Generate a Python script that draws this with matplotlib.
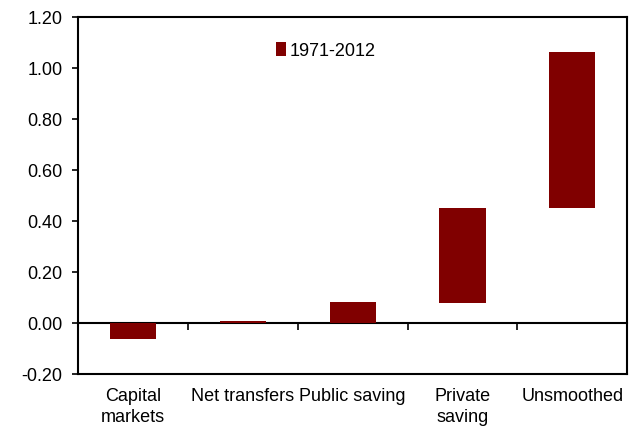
import numpy as np
import matplotlib.pyplot as plt
from matplotlib.ticker import FormatStrFormatter

plt.rcParams['font.family'] = ['Liberation Sans', 'DejaVu Sans']

categories = ['Capital\nmarkets', 'Net transfers', 'Public saving', 'Private\nsaving', 'Unsmoothed']
bar_bottom = [-0.063, 0.0, 0.0, 0.08, 0.45]
bar_top = [0.0, 0.008, 0.083, 0.45, 1.063]
series_name = '1971-2012'

fig = plt.figure(figsize=(6.31, 4.30), dpi=100)
ax = fig.add_axes([0.124, 0.13, 0.87, 0.83])

x = np.arange(len(categories))
heights = np.array(bar_top) - np.array(bar_bottom)
ax.bar(x, heights, bottom=bar_bottom, width=0.42, color='#800000', label=series_name)

ax.set_xlim(-0.5, len(categories) - 0.5)
ax.set_ylim(-0.2, 1.2)
ax.set_yticks(np.arange(-0.2, 1.21, 0.2))
ax.yaxis.set_major_formatter(FormatStrFormatter('%.2f'))
ax.tick_params(axis='y', direction='out', length=4.5, width=1.2, labelsize=13, pad=7)

ax.set_xticks(x)
ax.set_xticklabels(categories, linespacing=1.3)
ax.tick_params(axis='x', length=0, labelsize=13, pad=10)

for s in ax.spines.values():
    s.set_linewidth(1.5)

# zero line with tick marks between categories
zero = ax.secondary_xaxis(0.2 / 1.4)
zero.set_xticks(np.arange(0.5, len(categories) - 0.5, 1.0))
zero.set_xticklabels([])
zero.tick_params(direction='out', length=5, width=1.2)
zero.spines['bottom'].set_linewidth(1.5)

ax.legend(loc='upper left', bbox_to_anchor=(0.33, 0.975), frameon=False, fontsize=13,
          handlelength=0.6, handleheight=0.8, handletextpad=0.2)

fig.savefig('out.png', dpi=100)
